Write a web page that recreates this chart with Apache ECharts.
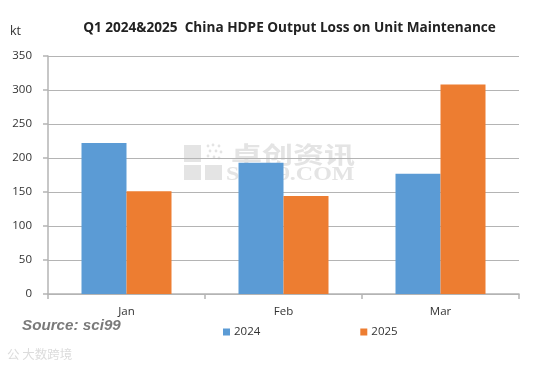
<!DOCTYPE html>
<html><head><meta charset="utf-8">
<style>html,body{margin:0;padding:0;background:#fff}#c{width:533px;height:366px}</style>
<script src="https://cdn.jsdelivr.net/npm/echarts@6/dist/echarts.min.js"></script>
</head><body><div id="c"></div>
<script>
const categories = ['Jan','Feb','Mar'];
const values2024 = [222,193,177];
const values2025 = [151,144,308];
const yMin = 0, yMax = 350, yStep = 50;
const titleText = 'Q1 2024&2025  China HDPE Output Loss on Unit Maintenance';
const font = '"Open Sans","Noto Sans",sans-serif';
const wmGrey = '#e4e4e4';
const wmDots = [[208,146],[213,145],[219,146],[210,151],[216,151],[221,152],[208,156],[214,157],[219,158]];
const chart = echarts.init(document.getElementById('c'), null, {renderer:'canvas'});
chart.setOption({
  animation:false,
  backgroundColor:'#fff',
  title:{text:titleText,left:284.5,top:16,textAlign:'center',textStyle:{fontFamily:font,fontSize:13.6,fontWeight:'bold',color:'#222'}},
  grid:{left:48,right:14,top:56,bottom:72},
  legend:{left:218,top:321,itemWidth:7,itemHeight:7,itemGap:100,icon:'rect',
    textStyle:{fontFamily:font,fontSize:11.5,color:'#333',padding:[0,0,0,-1]}},
  xAxis:{type:'category',data:categories,
    axisLine:{lineStyle:{color:'#b4b4b4',width:1.5}},
    axisTick:{show:true,length:5,lineStyle:{color:'#b4b4b4',width:1.5}},
    axisLabel:{fontFamily:font,fontSize:11.5,color:'#333',margin:12}},
  yAxis:{type:'value',min:yMin,max:yMax,interval:yStep,
    axisLine:{show:true,lineStyle:{color:'#b4b4b4',width:1.5}},
    axisTick:{show:true,length:5,lineStyle:{color:'#b4b4b4',width:1.5}},
    splitLine:{lineStyle:{color:'#b4b4b4',width:1.2}},
    axisLabel:{fontFamily:font,fontSize:11.5,color:'#333',margin:16}},
  series:[
    {name:'2024',type:'bar',data:values2024,barWidth:45,barGap:'0%',itemStyle:{color:'#5b9bd5'},z:3},
    {name:'2025',type:'bar',data:values2025,barWidth:45,barGap:'0%',itemStyle:{color:'#ed7d31'},z:3}
  ],
  graphic:[
    {type:'text',left:10,top:25,style:{text:'kt',fontFamily:font,fontSize:12.5,fill:'#333'}},
    {type:'text',left:22,top:318,style:{text:'Source: sci99',fontFamily:'"Liberation Sans",sans-serif',fontSize:15.2,fontWeight:'bold',fontStyle:'italic',fill:'#7a7a7a'}},
    {type:'text',left:7,top:348,style:{text:'公 大数跨境',fontFamily:'"Noto Sans CJK SC",sans-serif',fontSize:12.5,fill:'#dcdcdc'}},
    {type:'group',silent:true,z:-1,zlevel:0,children:[
      {type:'rect',z:-1,shape:{x:184,y:145,width:17,height:17},style:{fill:wmGrey}},
      {type:'rect',z:-1,shape:{x:184,y:165,width:17,height:15},style:{fill:wmGrey}},
      {type:'rect',z:-1,shape:{x:205,y:165,width:17,height:15},style:{fill:wmGrey}},
      ...wmDots.map(d=>({type:'circle',z:-1,shape:{cx:d[0],cy:d[1],r:1.4},style:{fill:wmGrey}})),
      {type:'text',z:-1,x:231,y:143,scaleY:0.75,style:{text:'卓创资讯',fontFamily:'"Noto Sans CJK SC",sans-serif',fontSize:31,fontWeight:'bold',fill:wmGrey}},
      {type:'text',z:-1,x:226,y:166,scaleX:1.33,style:{text:'SCI99.COM',fontFamily:'"Liberation Serif",serif',fontSize:18,fontWeight:'bold',fill:wmGrey}}
    ]}
  ]
});
</script></body></html>
